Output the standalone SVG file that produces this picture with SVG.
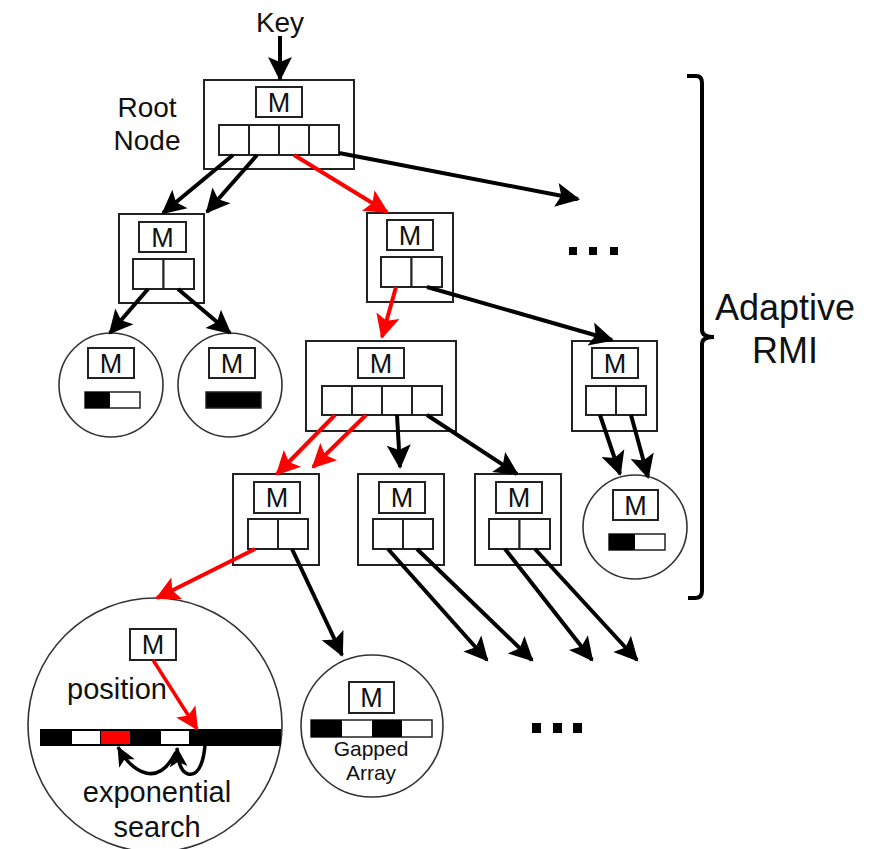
<svg xmlns="http://www.w3.org/2000/svg" width="887" height="849" viewBox="0 0 887 849">
<defs>
<marker id="ab" viewBox="0 0 24 24" markerWidth="6" markerHeight="6" refX="22" refY="12" orient="auto" overflow="visible">
<path d="M0,0 L24,12 L0,24 L5,12 z" fill="#000"/>
</marker>
<marker id="ar" viewBox="0 0 24 24" markerWidth="6" markerHeight="6" refX="22" refY="12" orient="auto" overflow="visible">
<path d="M0,0 L24,12 L0,24 L5,12 z" fill="#ff0000"/>
</marker>
<marker id="ar2" viewBox="0 0 24 24" markerWidth="6.5" markerHeight="6.5" refX="22" refY="12" orient="auto" overflow="visible">
<path d="M0,0 L24,12 L0,24 L5,12 z" fill="#ff0000"/>
</marker>
<marker id="as" viewBox="0 0 20 18" markerWidth="5.7" markerHeight="5.1" refX="19" refY="9" orient="auto" overflow="visible">
<path d="M0,0 L20,9 L0,18 L5,9 z" fill="#000"/>
</marker>
</defs>
<style>
.box{fill:#fff;stroke:#222;stroke-width:2}
.cell{fill:#fff;stroke:#222;stroke-width:2}
.circ{fill:#fff;stroke:#333;stroke-width:1.6}
.bar{stroke:#222;stroke-width:1.5}
.m{font-family:"Liberation Sans",Arial,sans-serif;font-size:27px;text-anchor:middle;fill:#111}
.t{font-family:"Liberation Sans",Arial,sans-serif;fill:#111}
.c{stroke:#000;stroke-width:4;fill:none}
.r{stroke:#ff0000;stroke-width:4;fill:none}
.dot{fill:#000}
</style>
<rect width="887" height="849" fill="#fff"/>

<text class="t" x="280" y="32" font-size="28" text-anchor="middle">Key</text>
<text class="t" x="147" y="117" font-size="28" text-anchor="middle">Root</text>
<text class="t" x="147" y="150" font-size="28" text-anchor="middle">Node</text>

<g id="root">
<rect class="box" x="204" y="80" width="150" height="89"/>
<rect class="box" x="256" y="87" width="46" height="30"/>
<text class="m" x="279" y="112">M</text>
<rect class="cell" x="219" y="125" width="30" height="30"/>
<rect class="cell" x="249" y="125" width="30" height="30"/>
<rect class="cell" x="279" y="125" width="30" height="30"/>
<rect class="cell" x="309" y="125" width="30" height="30"/>
</g>

<g id="left">
<rect class="box" x="119" y="214" width="85" height="89"/>
<rect class="box" x="139" y="222" width="47" height="30"/>
<text class="m" x="162.5" y="247">M</text>
<rect class="cell" x="133" y="259" width="30.5" height="30"/>
<rect class="cell" x="163.5" y="259" width="30.5" height="30"/>
</g>

<g id="mid">
<rect class="box" x="367" y="213" width="86" height="89"/>
<rect class="box" x="387" y="220" width="46" height="30"/>
<text class="m" x="410" y="245">M</text>
<rect class="cell" x="381" y="257" width="30.5" height="30"/>
<rect class="cell" x="411.5" y="257" width="30.5" height="30"/>
</g>

<g id="dots-top">
<rect class="dot" x="569" y="247" width="8" height="8"/>
<rect class="dot" x="589" y="247" width="8" height="8"/>
<rect class="dot" x="610" y="247" width="8" height="8"/>
</g>

<g id="leaf1">
<circle class="circ" cx="111" cy="385" r="52"/>
<rect class="box" x="88" y="348" width="46" height="30"/>
<text class="m" x="111" y="373">M</text>
<rect class="bar" x="85" y="392" width="55" height="16" fill="#fff"/>
<rect x="85" y="392" width="25" height="16" fill="#000"/>
</g>

<g id="leaf2">
<circle class="circ" cx="230" cy="385" r="52"/>
<rect class="box" x="209" y="348" width="46" height="30"/>
<text class="m" x="232" y="373">M</text>
<rect class="bar" x="206" y="392" width="55" height="16" fill="#000"/>
</g>

<g id="node3">
<rect class="box" x="306" y="341" width="150" height="90"/>
<rect class="box" x="358" y="348" width="46" height="30"/>
<text class="m" x="381" y="373">M</text>
<rect class="cell" x="322" y="386" width="30" height="29"/>
<rect class="cell" x="352" y="386" width="30" height="29"/>
<rect class="cell" x="382" y="386" width="30" height="29"/>
<rect class="cell" x="412" y="386" width="30" height="29"/>
</g>

<g id="node4">
<rect class="box" x="572" y="341" width="85" height="90"/>
<rect class="box" x="592" y="348" width="46" height="30"/>
<text class="m" x="615" y="373">M</text>
<rect class="cell" x="586" y="386" width="30" height="29"/>
<rect class="cell" x="616" y="386" width="30" height="29"/>
</g>

<g id="nodeA">
<rect class="box" x="233" y="474" width="86" height="91"/>
<rect class="box" x="254" y="482" width="46" height="31"/>
<text class="m" x="277" y="507">M</text>
<rect class="cell" x="248" y="519" width="30" height="30"/>
<rect class="cell" x="278" y="519" width="30" height="30"/>
</g>

<g id="nodeB">
<rect class="box" x="358" y="474" width="86" height="91"/>
<rect class="box" x="379" y="482" width="46" height="31"/>
<text class="m" x="402" y="507">M</text>
<rect class="cell" x="373" y="519" width="30" height="30"/>
<rect class="cell" x="403" y="519" width="30" height="30"/>
</g>

<g id="nodeC">
<rect class="box" x="475" y="474" width="86" height="91"/>
<rect class="box" x="496" y="482" width="46" height="31"/>
<text class="m" x="519" y="507">M</text>
<rect class="cell" x="489" y="519" width="30.5" height="30"/>
<rect class="cell" x="519.5" y="519" width="30.5" height="30"/>
</g>

<g id="leafD">
<circle class="circ" cx="635" cy="527" r="52"/>
<rect class="box" x="613" y="490" width="45" height="30"/>
<text class="m" x="635.5" y="515">M</text>
<rect class="bar" x="609" y="534" width="56" height="16" fill="#fff"/>
<rect x="609" y="534" width="26" height="16" fill="#000"/>
</g>

<g id="bigleaf">
<circle class="circ" cx="155" cy="725" r="127"/>
<rect class="box" x="130" y="629" width="46" height="31"/>
<text class="m" x="153" y="654">M</text>
<text class="t" x="67" y="699" font-size="29">position</text>
<rect x="40" y="729" width="241" height="17" fill="#000"/>
<rect x="72" y="731" width="28" height="13" fill="#fff"/>
<rect x="101" y="731" width="29" height="13" fill="#ff0000"/>
<rect x="161" y="731" width="28" height="13" fill="#fff"/>
<text class="t" x="157" y="802" font-size="29" text-anchor="middle">exponential</text>
<text class="t" x="157" y="837" font-size="29" text-anchor="middle">search</text>
</g>

<g id="gapped">
<circle class="circ" cx="372" cy="726" r="71"/>
<rect class="box" x="349" y="682" width="45" height="31"/>
<text class="m" x="371.5" y="707">M</text>
<rect class="bar" x="311" y="720" width="121" height="17" fill="#fff"/>
<rect x="311" y="720" width="31" height="17" fill="#000"/>
<rect x="372" y="720" width="30" height="17" fill="#000"/>
<text class="t" x="371" y="756" font-size="21" text-anchor="middle">Gapped</text>
<text class="t" x="371" y="780" font-size="21" text-anchor="middle">Array</text>
</g>

<g id="dots-bottom">
<rect class="dot" x="532" y="723" width="9" height="10"/>
<rect class="dot" x="553" y="723" width="9" height="10"/>
<rect class="dot" x="573" y="723" width="9" height="10"/>
</g>

<g id="brace">
<path d="M687,76 L696,76 Q702,76 702,83 L702,330 Q702,337 714,337 Q702,337 702,344 L702,591 Q702,598 695,598 L688,598" fill="none" stroke="#000" stroke-width="4"/>
<text class="t" x="785" y="320" font-size="36" text-anchor="middle">Adaptive</text>
<text class="t" x="785" y="363" font-size="36" text-anchor="middle">RMI</text>
</g>

<g id="connectors">
<line class="c" x1="280" y1="36" x2="280" y2="79" marker-end="url(#ab)"/>
<line class="c" x1="233" y1="155" x2="163" y2="213" marker-end="url(#ab)"/>
<line class="c" x1="257" y1="155" x2="207" y2="212" marker-end="url(#ab)"/>
<line class="r" x1="294" y1="155" x2="387" y2="212" marker-end="url(#ar)"/>
<line class="c" x1="339" y1="153" x2="578" y2="199" marker-end="url(#ab)"/>
<line class="c" x1="148" y1="289" x2="110" y2="333" marker-end="url(#ab)"/>
<line class="c" x1="178" y1="289" x2="230" y2="333" marker-end="url(#ab)"/>
<line class="r" x1="396" y1="287" x2="382" y2="337" marker-end="url(#ar)"/>
<line class="c" x1="427" y1="287" x2="612" y2="340" marker-end="url(#ab)"/>
<line class="r" x1="335" y1="415" x2="277" y2="474" marker-end="url(#ar)"/>
<line class="r" x1="366" y1="415" x2="313" y2="467" marker-end="url(#ar)"/>
<line class="c" x1="397" y1="415" x2="400" y2="467" marker-end="url(#ab)"/>
<line class="c" x1="427" y1="415" x2="517" y2="474" marker-end="url(#ab)"/>
<line class="c" x1="600" y1="415" x2="620" y2="474" marker-end="url(#ab)"/>
<line class="c" x1="631" y1="415" x2="648" y2="477" marker-end="url(#ab)"/>
<line class="r" x1="255" y1="549" x2="157" y2="598" marker-end="url(#ar)"/>
<line class="c" x1="292" y1="549" x2="342" y2="655" marker-end="url(#ab)"/>
<line class="c" x1="388" y1="549" x2="487" y2="660" marker-end="url(#ab)"/>
<line class="c" x1="417" y1="549" x2="532" y2="660" marker-end="url(#ab)"/>
<line class="c" x1="505" y1="549" x2="592" y2="660" marker-end="url(#ab)"/>
<line class="c" x1="535" y1="549" x2="637" y2="660" marker-end="url(#ab)"/>
<line x1="153" y1="660" x2="197" y2="729" stroke="#ff0000" stroke-width="3.5" marker-end="url(#ar2)"/>
<path d="M205,745 C203,768 196,776 188,774 C180,772 178,760 177,748" fill="none" stroke="#000" stroke-width="3.5" marker-end="url(#as)"/>
<path d="M176,752 C168,768 158,776 146,773 C134,770 124,758 118,747" fill="none" stroke="#000" stroke-width="3.5" marker-end="url(#as)"/>
</g>
</svg>
